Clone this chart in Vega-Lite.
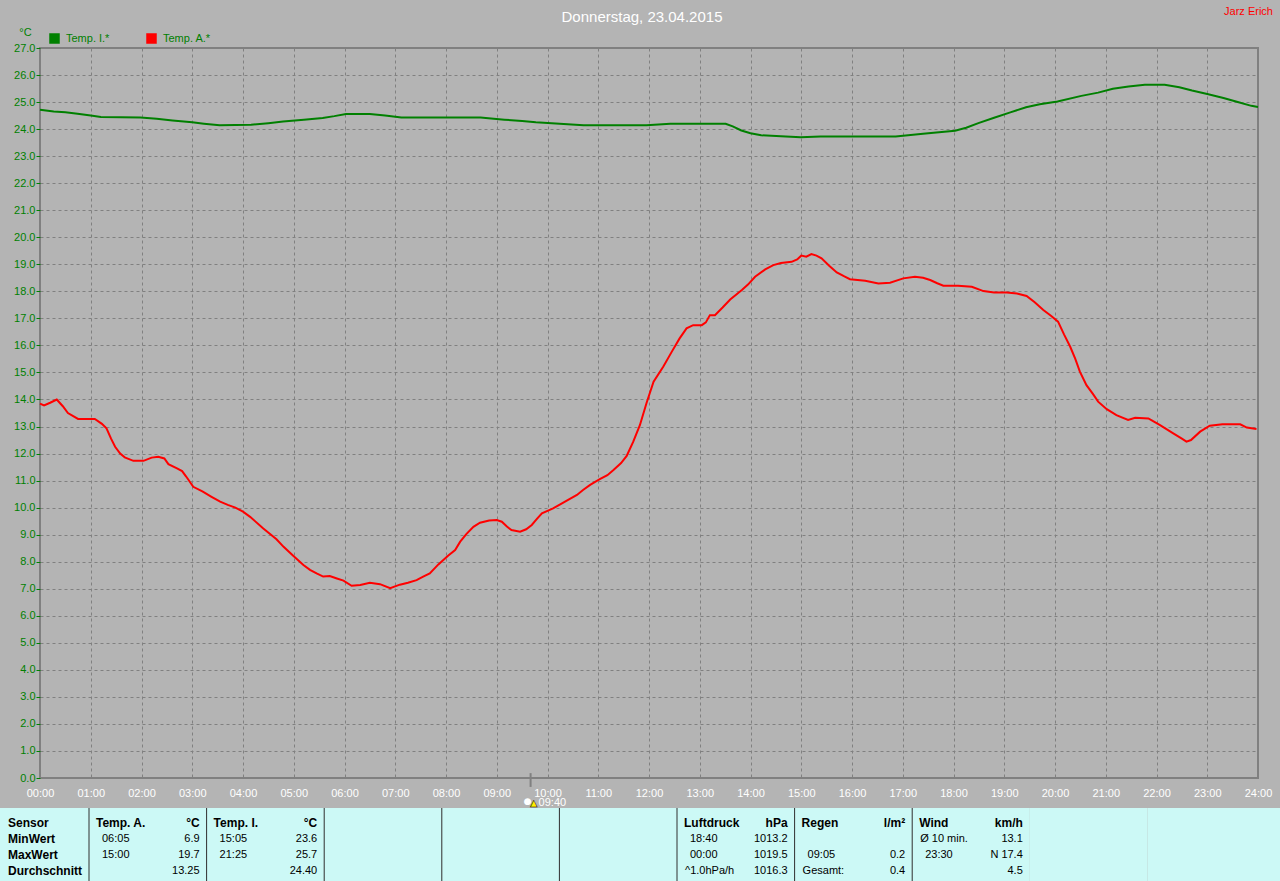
{
  "$schema": "https://vega.github.io/schema/vega-lite/v6.json",
  "width": 1218,
  "height": 730,
  "autosize": {"type": "none"},
  "padding": {"left": 40, "top": 48, "right": 22, "bottom": 103},
  "background": "#b4b4b4",
  "title": {"text": "Donnerstag, 23.04.2015", "color": "white", "fontSize": 15, "fontWeight": "normal", "font": "Liberation Sans", "anchor": "middle", "dx": -7, "offset": -16, "dy": 18, "baseline": "bottom"},
  "config": {
    "view": {"stroke": "#808080", "strokeWidth": 2, "fill": "#b4b4b4"},
    "font": "Liberation Sans"
  },
  "datasets": {
    "temp": [
      {"s":"Temp. A.*","h":0.00,"v":13.85},{"s":"Temp. A.*","h":0.08,"v":13.78},{"s":"Temp. A.*","h":0.20,"v":13.88},{"s":"Temp. A.*","h":0.33,"v":14.0},{"s":"Temp. A.*","h":0.45,"v":13.75},{"s":"Temp. A.*","h":0.55,"v":13.5},{"s":"Temp. A.*","h":0.75,"v":13.28},{"s":"Temp. A.*","h":1.08,"v":13.28},{"s":"Temp. A.*","h":1.22,"v":13.1},{"s":"Temp. A.*","h":1.31,"v":12.93},{"s":"Temp. A.*","h":1.40,"v":12.55},{"s":"Temp. A.*","h":1.48,"v":12.25},{"s":"Temp. A.*","h":1.58,"v":12.0},{"s":"Temp. A.*","h":1.67,"v":11.86},{"s":"Temp. A.*","h":1.84,"v":11.73},{"s":"Temp. A.*","h":2.04,"v":11.73},{"s":"Temp. A.*","h":2.20,"v":11.85},{"s":"Temp. A.*","h":2.33,"v":11.88},{"s":"Temp. A.*","h":2.45,"v":11.82},{"s":"Temp. A.*","h":2.53,"v":11.61},{"s":"Temp. A.*","h":2.70,"v":11.45},{"s":"Temp. A.*","h":2.80,"v":11.35},{"s":"Temp. A.*","h":2.88,"v":11.15},{"s":"Temp. A.*","h":3.02,"v":10.77},{"s":"Temp. A.*","h":3.20,"v":10.6},{"s":"Temp. A.*","h":3.38,"v":10.4},{"s":"Temp. A.*","h":3.55,"v":10.22},{"s":"Temp. A.*","h":3.70,"v":10.1},{"s":"Temp. A.*","h":3.85,"v":10.0},{"s":"Temp. A.*","h":4.00,"v":9.85},{"s":"Temp. A.*","h":4.14,"v":9.66},{"s":"Temp. A.*","h":4.40,"v":9.23},{"s":"Temp. A.*","h":4.66,"v":8.83},{"s":"Temp. A.*","h":4.80,"v":8.55},{"s":"Temp. A.*","h":5.00,"v":8.2},{"s":"Temp. A.*","h":5.19,"v":7.88},{"s":"Temp. A.*","h":5.32,"v":7.7},{"s":"Temp. A.*","h":5.45,"v":7.57},{"s":"Temp. A.*","h":5.58,"v":7.45},{"s":"Temp. A.*","h":5.71,"v":7.47},{"s":"Temp. A.*","h":5.85,"v":7.38},{"s":"Temp. A.*","h":5.98,"v":7.3},{"s":"Temp. A.*","h":6.14,"v":7.11},{"s":"Temp. A.*","h":6.31,"v":7.14},{"s":"Temp. A.*","h":6.50,"v":7.22},{"s":"Temp. A.*","h":6.70,"v":7.17},{"s":"Temp. A.*","h":6.90,"v":7.02},{"s":"Temp. A.*","h":7.09,"v":7.15},{"s":"Temp. A.*","h":7.25,"v":7.22},{"s":"Temp. A.*","h":7.42,"v":7.32},{"s":"Temp. A.*","h":7.55,"v":7.45},{"s":"Temp. A.*","h":7.68,"v":7.57},{"s":"Temp. A.*","h":7.85,"v":7.9},{"s":"Temp. A.*","h":8.04,"v":8.22},{"s":"Temp. A.*","h":8.18,"v":8.43},{"s":"Temp. A.*","h":8.28,"v":8.74},{"s":"Temp. A.*","h":8.40,"v":9.02},{"s":"Temp. A.*","h":8.54,"v":9.29},{"s":"Temp. A.*","h":8.67,"v":9.44},{"s":"Temp. A.*","h":8.85,"v":9.52},{"s":"Temp. A.*","h":9.00,"v":9.54},{"s":"Temp. A.*","h":9.10,"v":9.48},{"s":"Temp. A.*","h":9.20,"v":9.3},{"s":"Temp. A.*","h":9.29,"v":9.17},{"s":"Temp. A.*","h":9.46,"v":9.11},{"s":"Temp. A.*","h":9.58,"v":9.2},{"s":"Temp. A.*","h":9.69,"v":9.36},{"s":"Temp. A.*","h":9.80,"v":9.6},{"s":"Temp. A.*","h":9.89,"v":9.79},{"s":"Temp. A.*","h":10.11,"v":9.97},{"s":"Temp. A.*","h":10.25,"v":10.12},{"s":"Temp. A.*","h":10.38,"v":10.26},{"s":"Temp. A.*","h":10.58,"v":10.47},{"s":"Temp. A.*","h":10.70,"v":10.65},{"s":"Temp. A.*","h":10.84,"v":10.84},{"s":"Temp. A.*","h":11.03,"v":11.05},{"s":"Temp. A.*","h":11.18,"v":11.2},{"s":"Temp. A.*","h":11.30,"v":11.39},{"s":"Temp. A.*","h":11.45,"v":11.65},{"s":"Temp. A.*","h":11.56,"v":11.91},{"s":"Temp. A.*","h":11.69,"v":12.44},{"s":"Temp. A.*","h":11.82,"v":13.05},{"s":"Temp. A.*","h":11.95,"v":13.86},{"s":"Temp. A.*","h":12.09,"v":14.66},{"s":"Temp. A.*","h":12.28,"v":15.21},{"s":"Temp. A.*","h":12.45,"v":15.77},{"s":"Temp. A.*","h":12.60,"v":16.25},{"s":"Temp. A.*","h":12.74,"v":16.63},{"s":"Temp. A.*","h":12.87,"v":16.75},{"s":"Temp. A.*","h":13.04,"v":16.75},{"s":"Temp. A.*","h":13.12,"v":16.85},{"s":"Temp. A.*","h":13.20,"v":17.12},{"s":"Temp. A.*","h":13.30,"v":17.12},{"s":"Temp. A.*","h":13.45,"v":17.4},{"s":"Temp. A.*","h":13.60,"v":17.70},{"s":"Temp. A.*","h":13.83,"v":18.05},{"s":"Temp. A.*","h":13.95,"v":18.25},{"s":"Temp. A.*","h":14.09,"v":18.54},{"s":"Temp. A.*","h":14.29,"v":18.81},{"s":"Temp. A.*","h":14.45,"v":18.97},{"s":"Temp. A.*","h":14.60,"v":19.05},{"s":"Temp. A.*","h":14.81,"v":19.09},{"s":"Temp. A.*","h":14.92,"v":19.18},{"s":"Temp. A.*","h":15.00,"v":19.32},{"s":"Temp. A.*","h":15.10,"v":19.28},{"s":"Temp. A.*","h":15.20,"v":19.38},{"s":"Temp. A.*","h":15.30,"v":19.32},{"s":"Temp. A.*","h":15.40,"v":19.22},{"s":"Temp. A.*","h":15.55,"v":18.95},{"s":"Temp. A.*","h":15.70,"v":18.70},{"s":"Temp. A.*","h":15.85,"v":18.55},{"s":"Temp. A.*","h":15.96,"v":18.45},{"s":"Temp. A.*","h":16.26,"v":18.39},{"s":"Temp. A.*","h":16.52,"v":18.29},{"s":"Temp. A.*","h":16.75,"v":18.32},{"s":"Temp. A.*","h":17.01,"v":18.48},{"s":"Temp. A.*","h":17.24,"v":18.54},{"s":"Temp. A.*","h":17.40,"v":18.5},{"s":"Temp. A.*","h":17.54,"v":18.42},{"s":"Temp. A.*","h":17.68,"v":18.3},{"s":"Temp. A.*","h":17.80,"v":18.21},{"s":"Temp. A.*","h":18.09,"v":18.21},{"s":"Temp. A.*","h":18.36,"v":18.17},{"s":"Temp. A.*","h":18.59,"v":18.01},{"s":"Temp. A.*","h":18.80,"v":17.96},{"s":"Temp. A.*","h":19.05,"v":17.96},{"s":"Temp. A.*","h":19.25,"v":17.92},{"s":"Temp. A.*","h":19.44,"v":17.83},{"s":"Temp. A.*","h":19.60,"v":17.6},{"s":"Temp. A.*","h":19.77,"v":17.31},{"s":"Temp. A.*","h":19.92,"v":17.1},{"s":"Temp. A.*","h":20.06,"v":16.88},{"s":"Temp. A.*","h":20.18,"v":16.4},{"s":"Temp. A.*","h":20.30,"v":15.95},{"s":"Temp. A.*","h":20.40,"v":15.5},{"s":"Temp. A.*","h":20.49,"v":15.03},{"s":"Temp. A.*","h":20.62,"v":14.53},{"s":"Temp. A.*","h":20.75,"v":14.2},{"s":"Temp. A.*","h":20.85,"v":13.92},{"s":"Temp. A.*","h":21.02,"v":13.64},{"s":"Temp. A.*","h":21.21,"v":13.42},{"s":"Temp. A.*","h":21.44,"v":13.24},{"s":"Temp. A.*","h":21.58,"v":13.32},{"s":"Temp. A.*","h":21.84,"v":13.30},{"s":"Temp. A.*","h":21.95,"v":13.18},{"s":"Temp. A.*","h":22.07,"v":13.05},{"s":"Temp. A.*","h":22.33,"v":12.75},{"s":"Temp. A.*","h":22.50,"v":12.55},{"s":"Temp. A.*","h":22.59,"v":12.44},{"s":"Temp. A.*","h":22.68,"v":12.5},{"s":"Temp. A.*","h":22.86,"v":12.81},{"s":"Temp. A.*","h":23.05,"v":13.03},{"s":"Temp. A.*","h":23.30,"v":13.08},{"s":"Temp. A.*","h":23.65,"v":13.08},{"s":"Temp. A.*","h":23.78,"v":12.96},{"s":"Temp. A.*","h":23.97,"v":12.91},
      {"s":"Temp. I.*","h":0.00,"v":24.72},{"s":"Temp. I.*","h":0.27,"v":24.65},{"s":"Temp. I.*","h":0.50,"v":24.62},{"s":"Temp. I.*","h":0.74,"v":24.57},{"s":"Temp. I.*","h":1.00,"v":24.5},{"s":"Temp. I.*","h":1.20,"v":24.45},{"s":"Temp. I.*","h":1.98,"v":24.43},{"s":"Temp. I.*","h":2.30,"v":24.38},{"s":"Temp. I.*","h":2.61,"v":24.32},{"s":"Temp. I.*","h":3.00,"v":24.25},{"s":"Temp. I.*","h":3.23,"v":24.2},{"s":"Temp. I.*","h":3.54,"v":24.14},{"s":"Temp. I.*","h":4.16,"v":24.16},{"s":"Temp. I.*","h":4.50,"v":24.22},{"s":"Temp. I.*","h":4.79,"v":24.28},{"s":"Temp. I.*","h":5.20,"v":24.35},{"s":"Temp. I.*","h":5.57,"v":24.41},{"s":"Temp. I.*","h":5.80,"v":24.48},{"s":"Temp. I.*","h":6.03,"v":24.56},{"s":"Temp. I.*","h":6.50,"v":24.56},{"s":"Temp. I.*","h":6.80,"v":24.5},{"s":"Temp. I.*","h":7.12,"v":24.43},{"s":"Temp. I.*","h":8.68,"v":24.43},{"s":"Temp. I.*","h":9.15,"v":24.35},{"s":"Temp. I.*","h":9.50,"v":24.3},{"s":"Temp. I.*","h":9.77,"v":24.25},{"s":"Temp. I.*","h":10.71,"v":24.14},{"s":"Temp. I.*","h":11.95,"v":24.14},{"s":"Temp. I.*","h":12.42,"v":24.2},{"s":"Temp. I.*","h":13.51,"v":24.2},{"s":"Temp. I.*","h":13.65,"v":24.1},{"s":"Temp. I.*","h":13.82,"v":23.95},{"s":"Temp. I.*","h":14.00,"v":23.85},{"s":"Temp. I.*","h":14.21,"v":23.77},{"s":"Temp. I.*","h":14.60,"v":23.74},{"s":"Temp. I.*","h":14.99,"v":23.7},{"s":"Temp. I.*","h":15.38,"v":23.73},{"s":"Temp. I.*","h":16.86,"v":23.73},{"s":"Temp. I.*","h":17.40,"v":23.83},{"s":"Temp. I.*","h":18.03,"v":23.94},{"s":"Temp. I.*","h":18.25,"v":24.05},{"s":"Temp. I.*","h":18.49,"v":24.22},{"s":"Temp. I.*","h":18.80,"v":24.42},{"s":"Temp. I.*","h":19.12,"v":24.62},{"s":"Temp. I.*","h":19.43,"v":24.81},{"s":"Temp. I.*","h":19.70,"v":24.92},{"s":"Temp. I.*","h":20.05,"v":25.02},{"s":"Temp. I.*","h":20.52,"v":25.23},{"s":"Temp. I.*","h":20.85,"v":25.35},{"s":"Temp. I.*","h":21.14,"v":25.49},{"s":"Temp. I.*","h":21.45,"v":25.58},{"s":"Temp. I.*","h":21.77,"v":25.64},{"s":"Temp. I.*","h":22.16,"v":25.64},{"s":"Temp. I.*","h":22.45,"v":25.55},{"s":"Temp. I.*","h":22.70,"v":25.43},{"s":"Temp. I.*","h":23.00,"v":25.3},{"s":"Temp. I.*","h":23.32,"v":25.15},{"s":"Temp. I.*","h":23.60,"v":25.0},{"s":"Temp. I.*","h":23.87,"v":24.86},{"s":"Temp. I.*","h":24.00,"v":24.82}
    ],
    "marker": [{"h": 9.667, "t": "09:40"}],
    "sign": [{"t": "Jarz Erich"}],
    "cols": [{"col":0},{"col":1},{"col":2},{"col":3},{"col":4},{"col":5},{"col":6},{"col":7},{"col":8},{"col":9},{"col":10},{"col":11}],
    "table": [
      {"col":0,"row":0,"k":"lab","t":"Sensor"},
      {"col":0,"row":1,"k":"lab","t":"MinWert"},
      {"col":0,"row":2,"k":"lab","t":"MaxWert"},
      {"col":0,"row":3,"k":"lab","t":"Durchschnitt"},
      {"col":1,"row":0,"k":"hl","t":"Temp. A."},
      {"col":1,"row":0,"k":"hr","t":"°C"},
      {"col":1,"row":1,"k":"vi","t":"06:05"},
      {"col":1,"row":1,"k":"vr","t":"6.9"},
      {"col":1,"row":2,"k":"vi","t":"15:00"},
      {"col":1,"row":2,"k":"vr","t":"19.7"},
      {"col":1,"row":3,"k":"vr","t":"13.25"},
      {"col":2,"row":0,"k":"hl","t":"Temp. I."},
      {"col":2,"row":0,"k":"hr","t":"°C"},
      {"col":2,"row":1,"k":"vi","t":"15:05"},
      {"col":2,"row":1,"k":"vr","t":"23.6"},
      {"col":2,"row":2,"k":"vi","t":"21:25"},
      {"col":2,"row":2,"k":"vr","t":"25.7"},
      {"col":2,"row":3,"k":"vr","t":"24.40"},
      {"col":6,"row":0,"k":"hl","t":"Luftdruck"},
      {"col":6,"row":0,"k":"hr","t":"hPa"},
      {"col":6,"row":1,"k":"vi","t":"18:40"},
      {"col":6,"row":1,"k":"vr","t":"1013.2"},
      {"col":6,"row":2,"k":"vi","t":"00:00"},
      {"col":6,"row":2,"k":"vr","t":"1019.5"},
      {"col":6,"row":3,"k":"vl","t":"^1.0hPa/h"},
      {"col":6,"row":3,"k":"vr","t":"1016.3"},
      {"col":7,"row":0,"k":"hl","t":"Regen"},
      {"col":7,"row":0,"k":"hr","t":"l/m²"},
      {"col":7,"row":2,"k":"vi","t":"09:05"},
      {"col":7,"row":2,"k":"vr","t":"0.2"},
      {"col":7,"row":3,"k":"vl","t":"Gesamt:"},
      {"col":7,"row":3,"k":"vr","t":"0.4"},
      {"col":8,"row":0,"k":"hl","t":"Wind"},
      {"col":8,"row":0,"k":"hr","t":"km/h"},
      {"col":8,"row":1,"k":"vl","t":"Ø 10 min."},
      {"col":8,"row":1,"k":"vr","t":"13.1"},
      {"col":8,"row":2,"k":"vi","t":"23:30"},
      {"col":8,"row":2,"k":"vr","t":"N 17.4"},
      {"col":8,"row":3,"k":"vr","t":"4.5"}
    ]
  },
  "layer": [
    {
      "data": {"name": "temp"},
      "mark": {"type": "line", "strokeWidth": 2, "interpolate": "linear"},
      "encoding": {
        "x": {"field": "h", "type": "quantitative",
          "scale": {"domain": [0, 24], "nice": false, "zero": false},
          "axis": {"values": [0,1,2,3,4,5,6,7,8,9,10,11,12,13,14,15,16,17,18,19,20,21,22,23,24],
            "labelExpr": "(datum.value < 10 ? '0' : '') + datum.value + ':00'",
            "labelColor": "white", "labelFont": "Liberation Sans", "labelFontSize": 11,
            "ticks": false, "labelPadding": 9, "domain": false, "title": null,
            "grid": true, "gridColor": "#808080", "gridDash": [3, 3], "gridWidth": 1,
            "labelFlush": false, "labelOverlap": false}},
        "y": {"field": "v", "type": "quantitative",
          "scale": {"domain": [0, 27], "nice": false, "zero": false},
          "axis": {"values": [0,1,2,3,4,5,6,7,8,9,10,11,12,13,14,15,16,17,18,19,20,21,22,23,24,25,26,27],
            "format": ".1f", "labelColor": "#008000", "labelFont": "Liberation Sans", "labelFontSize": 11,
            "tickColor": "#008000", "tickSize": 4, "labelPadding": 1, "domain": false,
            "grid": true, "gridColor": "#808080", "gridDash": [3, 3], "gridWidth": 1,
            "labelOverlap": false, "labelFlush": false,
            "title": "°C", "titleAngle": 0, "titleColor": "#008000", "titleFont": "Liberation Sans",
            "titleFontSize": 11, "titleFontWeight": "normal", "titleX": -15, "titleY": -16,
            "titleAlign": "center", "titleBaseline": "middle"}},
        "color": {"field": "s", "type": "nominal",
          "scale": {"domain": ["Temp. I.*", "Temp. A.*"], "range": ["#008000", "#ff0000"]},
          "legend": {"title": null, "orient": "none", "legendX": 9, "legendY": -15,
            "direction": "horizontal", "symbolType": "square", "symbolSize": 81,
            "symbolStrokeColor": "white", "symbolStrokeWidth": 1.5,
            "labelColor": "#008000", "labelFont": "Liberation Sans", "labelFontSize": 11,
            "labelOffset": 6, "columnPadding": 34, "padding": 0,
            "encode": {"symbols": {"update": {"fill": {"signal": "scale('color', datum.value)"}, "stroke": {"value": "white"}, "strokeWidth": {"value": 1.5}, "opacity": {"value": 1}}}}}}
      }
    },
    {
      "data": {"name": "marker"},
      "mark": {"type": "rule", "stroke": "#808080", "strokeWidth": 2},
      "encoding": {
        "x": {"field": "h", "type": "quantitative", "scale": {"domain": [0, 24], "nice": false, "zero": false}, "axis": null},
        "y": {"datum": 0.18, "type": "quantitative", "scale": {"domain": [0, 27], "nice": false, "zero": false}, "axis": null},
        "y2": {"datum": -0.33}
      }
    },
    {
      "data": {"name": "marker"},
      "mark": {"type": "text", "text": "●", "color": "white", "fontSize": 9, "dx": -3, "align": "center", "baseline": "middle", "font": "DejaVu Sans"},
      "encoding": {
        "x": {"field": "h", "type": "quantitative", "scale": {"domain": [0, 24], "nice": false, "zero": false}, "axis": null},
        "y": {"datum": -0.85, "type": "quantitative", "scale": {"domain": [0, 27], "nice": false, "zero": false}, "axis": null}
      }
    },
    {
      "data": {"name": "marker"},
      "mark": {"type": "text", "text": "▲", "color": "#ffee00", "stroke": "black", "strokeWidth": 0.5, "fontSize": 9, "dx": 3, "dy": 2, "align": "center", "baseline": "middle", "font": "DejaVu Sans"},
      "encoding": {
        "x": {"field": "h", "type": "quantitative", "scale": {"domain": [0, 24], "nice": false, "zero": false}, "axis": null},
        "y": {"datum": -0.85, "type": "quantitative", "scale": {"domain": [0, 27], "nice": false, "zero": false}, "axis": null}
      }
    },
    {
      "data": {"name": "marker"},
      "mark": {"type": "text", "color": "white", "fontSize": 11, "dx": 8, "align": "left", "baseline": "middle", "font": "Liberation Sans"},
      "encoding": {
        "x": {"field": "h", "type": "quantitative", "scale": {"domain": [0, 24], "nice": false, "zero": false}, "axis": null},
        "y": {"datum": -0.93, "type": "quantitative", "scale": {"domain": [0, 27], "nice": false, "zero": false}, "axis": null},
        "text": {"field": "t"}
      }
    },
    {
      "data": {"name": "sign"},
      "mark": {"type": "text", "color": "#ff0000", "fontSize": 11, "dx": 15, "dy": -36, "align": "right", "baseline": "middle", "font": "Liberation Sans"},
      "encoding": {
        "x": {"datum": 24, "type": "quantitative", "scale": {"domain": [0, 24], "nice": false, "zero": false}, "axis": null},
        "y": {"datum": 27, "type": "quantitative", "scale": {"domain": [0, 27], "nice": false, "zero": false}, "axis": null},
        "text": {"field": "t"}
      }
    },
    {
      "layer": [
        {
          "data": {"name": "cols"},
          "mark": {"type": "rect", "fill": "#ccf9f6", "stroke": null},
          "encoding": {
            "x": {"field": "col", "type": "ordinal", "scale": {"type": "band", "domain": [0,1,2,3,4,5,6,7,8,9,10,11], "range": [-68.6, 1342.6], "paddingInner": 0, "paddingOuter": 0}, "axis": null},
            "y": {"datum": -0.90625, "type": "quantitative", "scale": {"domain": [-0.90625, 3.65625], "range": [760, 833], "nice": false, "zero": false}, "axis": null},
            "y2": {"datum": 3.65625}
          }
        },
        {
          "data": {"name": "cols"},
          "transform": [{"filter": "datum.col >= 1 && datum.col <= 8"}],
          "mark": {"type": "rule", "stroke": "#303030", "strokeWidth": 1},
          "encoding": {
            "x": {"field": "col", "type": "ordinal", "bandPosition": 0, "scale": {"type": "band", "domain": [0,1,2,3,4,5,6,7,8,9,10,11], "range": [-68.6, 1342.6], "paddingInner": 0, "paddingOuter": 0}, "axis": null},
            "y": {"datum": -0.90625, "type": "quantitative", "scale": {"domain": [-0.90625, 3.65625], "range": [760, 833], "nice": false, "zero": false}, "axis": null},
            "y2": {"datum": 3.65625}
          }
        },
        {
          "data": {"name": "table"},
          "transform": [{"filter": "datum.k == 'lab'"}],
          "mark": {"type": "text", "align": "left", "baseline": "middle", "fontWeight": "bold", "fontSize": 12, "font": "Liberation Sans", "color": "black", "dx": 36.6},
          "encoding": {
            "x": {"field": "col", "type": "ordinal", "bandPosition": 0, "scale": {"type": "band", "domain": [0,1,2,3,4,5,6,7,8,9,10,11], "range": [-68.6, 1342.6], "paddingInner": 0, "paddingOuter": 0}, "axis": null},
            "y": {"field": "row", "type": "quantitative", "scale": {"domain": [-0.90625, 3.65625], "range": [760, 833], "nice": false, "zero": false}, "axis": null},
            "text": {"field": "t"}
          }
        },
        {
          "data": {"name": "table"},
          "transform": [{"filter": "datum.k == 'hl'"}],
          "mark": {"type": "text", "align": "left", "baseline": "middle", "fontWeight": "bold", "fontSize": 12, "font": "Liberation Sans", "color": "black", "dx": 7},
          "encoding": {
            "x": {"field": "col", "type": "ordinal", "bandPosition": 0, "scale": {"type": "band", "domain": [0,1,2,3,4,5,6,7,8,9,10,11], "range": [-68.6, 1342.6], "paddingInner": 0, "paddingOuter": 0}, "axis": null},
            "y": {"field": "row", "type": "quantitative", "scale": {"domain": [-0.90625, 3.65625], "range": [760, 833], "nice": false, "zero": false}, "axis": null},
            "text": {"field": "t"}
          }
        },
        {
          "data": {"name": "table"},
          "transform": [{"filter": "datum.k == 'hr'"}],
          "mark": {"type": "text", "align": "right", "baseline": "middle", "fontWeight": "bold", "fontSize": 12, "font": "Liberation Sans", "color": "black", "dx": -7},
          "encoding": {
            "x": {"field": "col", "type": "ordinal", "bandPosition": 1, "scale": {"type": "band", "domain": [0,1,2,3,4,5,6,7,8,9,10,11], "range": [-68.6, 1342.6], "paddingInner": 0, "paddingOuter": 0}, "axis": null},
            "y": {"field": "row", "type": "quantitative", "scale": {"domain": [-0.90625, 3.65625], "range": [760, 833], "nice": false, "zero": false}, "axis": null},
            "text": {"field": "t"}
          }
        },
        {
          "data": {"name": "table"},
          "transform": [{"filter": "datum.k == 'vl'"}],
          "mark": {"type": "text", "align": "left", "baseline": "middle", "fontSize": 11, "font": "Liberation Sans", "color": "black", "dx": 8},
          "encoding": {
            "x": {"field": "col", "type": "ordinal", "bandPosition": 0, "scale": {"type": "band", "domain": [0,1,2,3,4,5,6,7,8,9,10,11], "range": [-68.6, 1342.6], "paddingInner": 0, "paddingOuter": 0}, "axis": null},
            "y": {"field": "row", "type": "quantitative", "scale": {"domain": [-0.90625, 3.65625], "range": [760, 833], "nice": false, "zero": false}, "axis": null},
            "text": {"field": "t"}
          }
        },
        {
          "data": {"name": "table"},
          "transform": [{"filter": "datum.k == 'vi'"}],
          "mark": {"type": "text", "align": "left", "baseline": "middle", "fontSize": 11, "font": "Liberation Sans", "color": "black", "dx": 13},
          "encoding": {
            "x": {"field": "col", "type": "ordinal", "bandPosition": 0, "scale": {"type": "band", "domain": [0,1,2,3,4,5,6,7,8,9,10,11], "range": [-68.6, 1342.6], "paddingInner": 0, "paddingOuter": 0}, "axis": null},
            "y": {"field": "row", "type": "quantitative", "scale": {"domain": [-0.90625, 3.65625], "range": [760, 833], "nice": false, "zero": false}, "axis": null},
            "text": {"field": "t"}
          }
        },
        {
          "data": {"name": "table"},
          "transform": [{"filter": "datum.k == 'vr'"}],
          "mark": {"type": "text", "align": "right", "baseline": "middle", "fontSize": 11, "font": "Liberation Sans", "color": "black", "dx": -7},
          "encoding": {
            "x": {"field": "col", "type": "ordinal", "bandPosition": 1, "scale": {"type": "band", "domain": [0,1,2,3,4,5,6,7,8,9,10,11], "range": [-68.6, 1342.6], "paddingInner": 0, "paddingOuter": 0}, "axis": null},
            "y": {"field": "row", "type": "quantitative", "scale": {"domain": [-0.90625, 3.65625], "range": [760, 833], "nice": false, "zero": false}, "axis": null},
            "text": {"field": "t"}
          }
        }
      ]
    }
  ],
  "resolve": {"scale": {"x": "independent", "y": "independent"}, "axis": {"x": "independent", "y": "independent"}}
}
